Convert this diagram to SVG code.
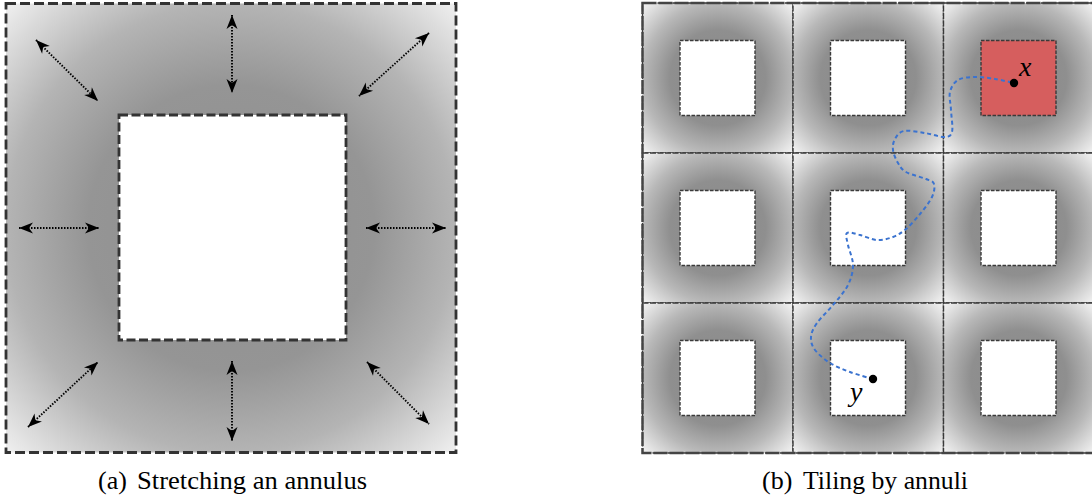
<svg xmlns="http://www.w3.org/2000/svg" width="1092" height="504" viewBox="0 0 1092 504">
<style>
.ann{stroke:#333;stroke-width:2.8;stroke-dasharray:10 4;fill:url(#gA)}
.hole{fill:#fff;stroke:#333;stroke-width:2.8;stroke-dasharray:9 3.5}
.arr{fill:none;stroke:#000;stroke-width:1.9;stroke-dasharray:1.5 1.5;marker-start:url(#ah);marker-end:url(#ah)}
.cell{fill:url(#gB);stroke:#3a3a3a;stroke-width:1.4;stroke-dasharray:6 1.5}
.sq{fill:#fff;stroke:#3a3a3a;stroke-width:1.4;stroke-dasharray:3.5 1.5}
.red{fill:#d65e5e}
.frame{fill:none;stroke:#444;stroke-width:2.4;stroke-dasharray:14 2}
.path{fill:none;stroke:#3b73cf;stroke-width:2;stroke-dasharray:4 3}
.cap{font-family:"Liberation Serif","Times New Roman",serif;font-size:26px;fill:#000}
.math{font-family:"Liberation Serif","Times New Roman",serif;font-style:italic;font-size:28px;fill:#000}
</style>
<defs>
<radialGradient id="gA" cx="0.5" cy="0.5" r="0.7071">
<stop offset="0" stop-color="#8e8e8e"/>
<stop offset="0.45" stop-color="#959595"/>
<stop offset="0.707" stop-color="#b4b4b4"/>
<stop offset="1" stop-color="#f0f0f0"/>
</radialGradient>
<radialGradient id="gB" cx="0.5" cy="0.5" r="0.7071">
<stop offset="0" stop-color="#888"/>
<stop offset="0.45" stop-color="#8f8f8f"/>
<stop offset="0.707" stop-color="#b8b8b8"/>
<stop offset="1" stop-color="#f5f5f5"/>
</radialGradient>
<marker id="ah" viewBox="-15 -7 16 14" refX="0" refY="0" markerWidth="16" markerHeight="14" markerUnits="userSpaceOnUse" orient="auto-start-reverse">
<path d="M0,0 L-14,-5.5 L-10,0 L-14,5.5 Z" fill="#000"/>
</marker>
</defs>

<g id="panel-a">
<g id="annulus"><rect class="ann" x="6" y="3.5" width="450" height="449"/></g>
<g id="hole"><rect class="hole" x="119" y="115" width="227" height="225"/></g>
<g id="stretch-arrows">
<line class="arr" x1="36" y1="40" x2="98" y2="101"/>
<line class="arr" x1="232" y1="15" x2="232" y2="93"/>
<line class="arr" x1="429" y1="33" x2="359" y2="96"/>
<line class="arr" x1="19" y1="228" x2="99" y2="228"/>
<line class="arr" x1="366" y1="228" x2="446" y2="228"/>
<line class="arr" x1="28" y1="427" x2="98" y2="362"/>
<line class="arr" x1="232" y1="361" x2="232" y2="441"/>
<line class="arr" x1="367" y1="362" x2="429" y2="424"/>
</g>
<text id="caption-a" class="cap" y="489"><tspan x="98">(a) </tspan><tspan x="137" textLength="230" lengthAdjust="spacingAndGlyphs">Stretching an annulus</tspan></text>
</g>

<g id="panel-b">
<g id="cell-0-0"><rect class="cell" x="642.5" y="3" width="150.5" height="150"/><rect class="sq" x="680" y="40.5" width="75" height="75"/></g>
<g id="cell-1-0"><rect class="cell" x="793" y="3" width="150.5" height="150"/><rect class="sq" x="830.5" y="40.5" width="75" height="75"/></g>
<g id="cell-2-0"><rect class="cell" x="943.5" y="3" width="150.5" height="150"/><rect class="sq red" x="981" y="40.5" width="75" height="75"/></g>
<g id="cell-0-1"><rect class="cell" x="642.5" y="153" width="150.5" height="150"/><rect class="sq" x="680" y="190.5" width="75" height="75"/></g>
<g id="cell-1-1"><rect class="cell" x="793" y="153" width="150.5" height="150"/><rect class="sq" x="830.5" y="190.5" width="75" height="75"/></g>
<g id="cell-2-1"><rect class="cell" x="943.5" y="153" width="150.5" height="150"/><rect class="sq" x="981" y="190.5" width="75" height="75"/></g>
<g id="cell-0-2"><rect class="cell" x="642.5" y="303" width="150.5" height="150"/><rect class="sq" x="680" y="340.5" width="75" height="75"/></g>
<g id="cell-1-2"><rect class="cell" x="793" y="303" width="150.5" height="150"/><rect class="sq" x="830.5" y="340.5" width="75" height="75"/></g>
<g id="cell-2-2"><rect class="cell" x="943.5" y="303" width="150.5" height="150"/><rect class="sq" x="981" y="340.5" width="75" height="75"/></g>
<rect class="frame" x="642.5" y="3" width="451.5" height="450"/>
<g id="connectors">
<path class="path" d="M873,379 C873,379 857.2,374.7 850,372 C842.8,369.3 835.8,366.7 830,363 C824.2,359.3 818.2,354.3 815,350 C811.8,345.7 810.7,341.5 811,337 C811.3,332.5 813.3,328.3 817,323 C820.7,317.7 827.8,311.3 833,305 C838.2,298.7 844.7,291.7 848,285 C851.3,278.3 853,271.7 853,265 C853,258.3 849,250.3 848,245 C847,239.7 845,234.7 847,233 C849,231.3 855,233.8 860,235 C865,236.2 871.5,239.7 877,240 C882.5,240.3 888.2,238.8 893,237 C897.8,235.2 901.5,232.8 906,229 C910.5,225.2 915.7,219.3 920,214 C924.3,208.7 929.7,202 932,197 C934.3,192 935,187 934,184 C933,181 930.7,181 926,179 C921.3,177 910.7,174.7 906,172 C901.3,169.3 900.2,166.7 898,163 C895.8,159.3 893.5,154 893,150 C892.5,146 893.2,142.2 895,139 C896.8,135.8 899,132 904,131 C909,130 918.3,132 925,133 C931.7,134 939.5,137.2 944,137 C948.5,136.8 950.8,136.5 952,132 C953.2,127.5 951.3,116.7 951,110 C950.7,103.3 948.8,97 950,92 C951.2,87 953.8,82.5 958,80 C962.2,77.5 968.8,77.2 975,77 C981.2,76.8 988.5,78 995,79 C1001.5,80 1014,83 1014,83"/>
</g>
<g id="point-x"><circle cx="1014" cy="83" r="4.2" fill="#000"/><text class="math" x="1019" y="76">x</text></g>
<g id="point-y"><circle cx="873" cy="379" r="4.2" fill="#000"/><text class="math" x="850" y="401">y</text></g>
<text id="caption-b" class="cap" y="489"><tspan x="762">(b) </tspan><tspan x="803" textLength="165" lengthAdjust="spacingAndGlyphs">Tiling by annuli</tspan></text>
</g>
</svg>
